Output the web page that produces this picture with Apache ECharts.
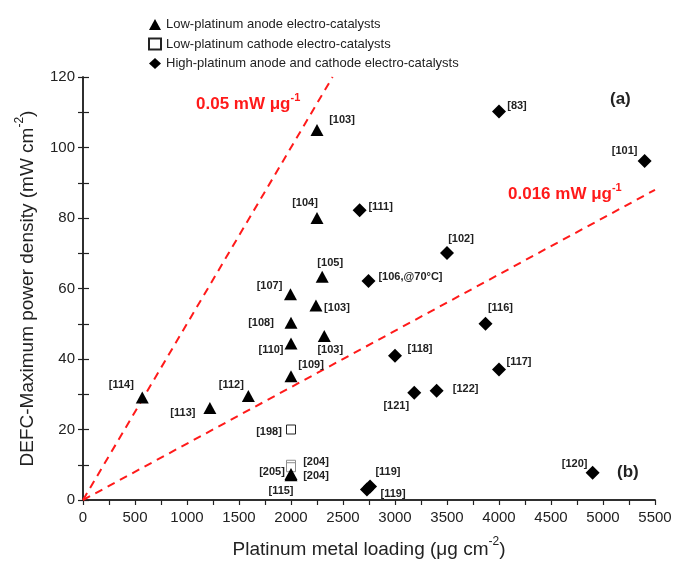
<!DOCTYPE html>
<html>
<head>
<meta charset="utf-8">
<script src="https://cdn.jsdelivr.net/npm/echarts@6/dist/echarts.min.js"></script>
<style>
  html, body { margin: 0; padding: 0; background: #fff; }
  #main { width: 674px; height: 570px; }
</style>
</head>
<body>
<div id="main"></div>
<script>
// low-platinum anode (triangles)
var anodeX = [2250, 2250, 2300, 1995, 2240, 2000, 2320, 2000, 2000, 570, 1590, 1220, 2000, 2000];
var anodeY = [105, 80, 63.3, 58.4, 55.2, 50.3, 46.5, 44.4, 35.1, 29.1, 29.5, 26.1, 7.4, 7.0];
var anodeRefs = ['[103]', '[104]', '[105]', '[107]', '[103]', '[108]', '[103]', '[110]', '[109]', '[114]', '[112]', '[113]', '[204]', '[115]'];

// low-platinum cathode (open squares)
var cathodeX = [2000, 2000, 2000];
var cathodeY = [20, 10, 9.3];
var cathodeRefs = ['[198]', '[204]', '[205]'];

// high-platinum anode + cathode (diamonds)
var highX = [4000, 5400, 2660, 3500, 2745, 3870, 3000, 4000, 3185, 3400, 4900, 2730, 2760];
var highY = [110.2, 96.2, 82.2, 70.1, 62.1, 50, 40.9, 37, 30.4, 31, 7.7, 3.0, 3.8];
var highRefs = ['[83]', '[101]', '[111]', '[102]', '[106,@70\u00b0C]', '[116]', '[118]', '[117]', '[121]', '[122]', '[120]', '[119]', '[119]'];

// specific power reference lines (mW per ug)
var slopes = [0.05, 0.016];
var lineEndX = [2400, 5500];

var xTicks = [0, 5500, 250];
var yTicks = [0, 120, 10];

// where each reference tag sits, relative to its marker (px)
var anodeTagOffset = [[25,-10],[-12,-15],[8,-14],[-21,-8],[21,3],[-30,0],[6,14],[-20,6],[20,-11],[-21,-12],[-17,-11],[-27,5],[25,2],[-10,16]];
var cathodeTagOffset = [[-22,2],[25,-3],[-19,5]];
var cathodeEdge = ['#222', '#8c8c8c', '#8c8c8c'];
var highTagOffset = [[18,-6],[-20,-10],[21,-3],[14,-14],[42,-4],[15,-16],[25,-7],[20,-8],[-18,13],[29,-2],[-18,-9],[21,-17],[23,7]];

var font = 'Liberation Sans, Arial, sans-serif';

function points(xs, ys, refs, offs, edges) {
    var out = [];
    for (var i = 0; i < xs.length; i++) {
        var p = {
            value: [xs[i], ys[i]],
            name: refs[i],
            label: { offset: offs[i] }
        };
        if (edges) {
            p.itemStyle = { borderColor: edges[i] };
        }
        out.push(p);
    }
    return out;
}

var tagLabel = {
    show: true,
    position: 'inside',
    align: 'center',
    verticalAlign: 'middle',
    formatter: '{b}',
    fontFamily: font,
    fontWeight: 'bold',
    fontSize: 11,
    color: '#222'
};

var redRich = {
    n: { fontFamily: font, fontSize: 17, fontWeight: 'bold', fill: '#ff1a1a', lineHeight: 21, verticalAlign: 'bottom' },
    s: { fontFamily: font, fontSize: 11, fontWeight: 'bold', fill: '#ff1a1a', lineHeight: 11, verticalAlign: 'top' }
};

var nameRich = {
    n: { fontFamily: font, fontSize: 19, color: '#222', lineHeight: 23, verticalAlign: 'bottom' },
    s: { fontFamily: font, fontSize: 12, color: '#222', lineHeight: 14, verticalAlign: 'top' }
};

var myChart = echarts.init(document.getElementById('main'));

var axisLine = { show: true, lineStyle: { color: '#222', width: 1.5 } };

var option = {
    animation: false,
    backgroundColor: '#fff',
    textStyle: { fontFamily: font },
    legend: {
        orient: 'vertical',
        left: 143,
        top: 13,
        itemWidth: 12,
        itemHeight: 11,
        itemGap: 6.5,
        textStyle: { fontFamily: font, fontSize: 13, color: '#222' },
        data: [
            { name: 'Low-platinum anode electro-catalysts', icon: 'triangle' },
            { name: 'Low-platinum cathode electro-catalysts', icon: 'rect' },
            { name: 'High-platinum anode and cathode electro-catalysts', icon: 'diamond' }
        ]
    },
    grid: {
        left: 83, right: 19, top: 77, bottom: 70,
        outerBoundsMode: 'none'
    },
    xAxis: [{
        type: 'value',
        min: xTicks[0], max: xTicks[1], interval: xTicks[2],
        splitLine: { show: false },
        axisLine: axisLine,
        axisTick: { show: true, inside: false, length: 5, lineStyle: { color: '#222', width: 1.2 } },
        axisLabel: {
            color: '#222', fontSize: 15, margin: 10, fontFamily: font,
            formatter: function (v) { return v % 500 === 0 ? String(v) : ''; }
        },
        name: '{n|Platinum metal loading (\u03bcg cm}{s|-2}{n|)}',
        nameLocation: 'middle',
        nameGap: 36,
        nameTextStyle: { rich: nameRich }
    }, {
        type: 'value',
        position: 'top',
        min: xTicks[0], max: xTicks[1], interval: xTicks[2],
        splitLine: { show: false },
        axisLine: axisLine,
        axisTick: { show: false },
        axisLabel: { show: false }
    }],
    yAxis: [{
        type: 'value',
        min: yTicks[0], max: yTicks[1], interval: yTicks[2],
        splitLine: { show: false },
        axisLine: axisLine,
        axisTick: { show: true, inside: true, length: 6, lineStyle: { color: '#222', width: 1.2 } },
        axisLabel: {
            color: '#222', fontSize: 15, margin: 8, fontFamily: font,
            formatter: function (v) { return v % 20 === 0 ? String(v) : ''; }
        },
        name: '{n|DEFC-Maximum power density (mW cm}{s|-2}{n|)}',
        nameLocation: 'middle',
        nameGap: 46,
        nameTextStyle: { rich: nameRich }
    }, {
        type: 'value',
        position: 'right',
        min: yTicks[0], max: yTicks[1], interval: yTicks[2],
        splitLine: { show: false },
        axisLine: axisLine,
        axisTick: { show: true, inside: true, length: 5, lineStyle: { color: '#222', width: 1.2 } },
        axisLabel: { show: false }
    }],
    graphic: [
        {
            type: 'text', left: 196, top: 92, silent: true,
            style: { text: '{n|0.05 mW \u03bcg}{s|-1}', rich: redRich }
        },
        {
            type: 'text', left: 508, top: 182, silent: true,
            style: { text: '{n|0.016 mW \u03bcg}{s|-1}', rich: redRich }
        },
        {
            type: 'text', left: 610, top: 91, silent: true,
            style: { text: '(a)', font: 'bold 17px ' + font, fill: '#222' }
        },
        {
            type: 'text', left: 617, top: 464, silent: true,
            style: { text: '(b)', font: 'bold 17px ' + font, fill: '#222' }
        }
    ],
    series: [
        {
            type: 'line',
            data: [[0, 0], [lineEndX[0], slopes[0] * lineEndX[0]]],
            symbol: 'none',
            silent: true,
            z: 1,
            lineStyle: { color: '#ff1a1a', width: 2, type: [8, 6] }
        },
        {
            type: 'line',
            data: [[0, 0], [lineEndX[1], slopes[1] * lineEndX[1]]],
            symbol: 'none',
            silent: true,
            z: 1,
            lineStyle: { color: '#ff1a1a', width: 2, type: [8, 6] }
        },
        {
            name: 'Low-platinum cathode electro-catalysts',
            type: 'scatter',
            symbol: 'rect',
            symbolSize: 9,
            itemStyle: { color: '#fff', borderColor: '#222', borderWidth: 1, opacity: 1 },
            label: tagLabel,
            z: 3,
            data: points(cathodeX, cathodeY, cathodeRefs, cathodeTagOffset, cathodeEdge)
        },
        {
            name: 'Low-platinum anode electro-catalysts',
            type: 'scatter',
            symbol: 'triangle',
            symbolSize: [13, 12],
            itemStyle: { color: '#000', opacity: 1 },
            label: tagLabel,
            z: 4,
            data: points(anodeX, anodeY, anodeRefs, anodeTagOffset)
        },
        {
            name: 'High-platinum anode and cathode electro-catalysts',
            type: 'scatter',
            symbol: 'diamond',
            symbolSize: 14,
            itemStyle: { color: '#000', opacity: 1 },
            label: tagLabel,
            z: 4,
            data: points(highX, highY, highRefs, highTagOffset)
        }
    ]
};

myChart.setOption(option);
</script>
</body>
</html>
